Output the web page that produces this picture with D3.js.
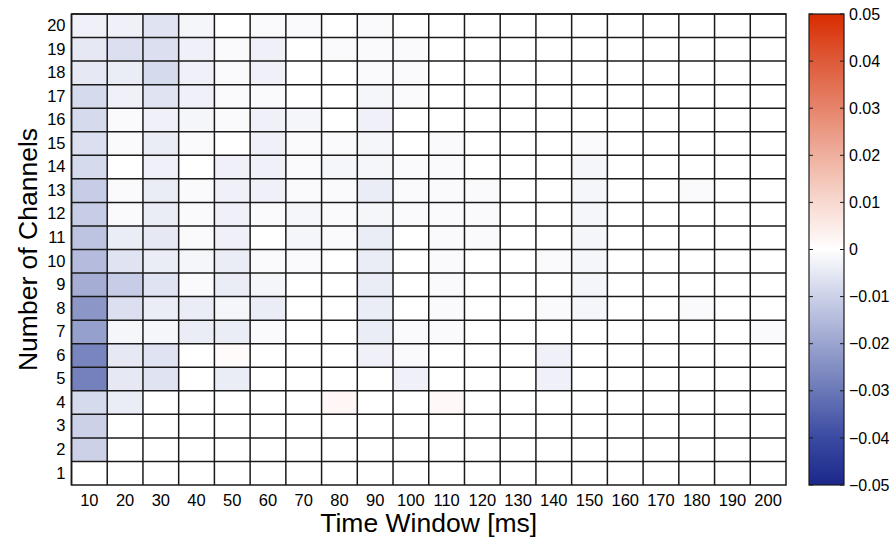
<!DOCTYPE html>
<html>
<head>
<meta charset="utf-8">
<script src="https://cdn.jsdelivr.net/npm/d3@7"></script>
<style>
  body { margin: 0; background: #fff; }
  text { font-family: "Liberation Sans", Arial, sans-serif; fill: #000; }
</style>
</head>
<body>
<script>
const timeWindows = [10, 20, 30, 40, 50, 60, 70, 80, 90, 100, 110, 120, 130, 140, 150, 160, 170, 180, 190, 200];
const channels = d3.range(1, 21);

// one row per channel count (1..20), one value per time window
const ch01 = [0, 0, 0, 0, 0, 0, 0, 0, 0, 0, 0, 0, 0, 0, 0, 0, 0, 0, 0, 0];
const ch02 = [-0.01, 0, 0, 0, 0, 0, 0, 0, 0, 0, 0, 0, 0, 0, 0, 0, 0, 0, 0, 0];
const ch03 = [-0.01, 0, 0, 0, 0, 0, 0, 0, 0, 0, 0, 0, 0, 0, 0, 0, 0, 0, 0, 0];
const ch04 = [-0.008, -0.004, 0, 0, 0, 0, 0, 0.002, 0, 0, 0.0015, 0, 0, 0, 0, 0, 0, 0, 0, 0];
const ch05 = [-0.028, -0.005, -0.006, 0, -0.004, 0, 0, 0, 0, -0.003, 0, 0, 0, -0.003, 0, 0, 0, 0, 0, 0];
const ch06 = [-0.027, -0.005, -0.006, 0, 0.001, 0, 0, 0, -0.003, -0.001, 0, 0, 0, -0.003, 0, 0, 0, 0, 0, 0];
const ch07 = [-0.021, -0.002, -0.002, -0.004, -0.004, -0.001, 0, 0, -0.004, -0.001, -0.001, 0, 0, 0, 0, 0, 0, 0, 0, -0.001];
const ch08 = [-0.023, -0.007, -0.004, -0.004, -0.002, -0.004, 0, 0, -0.004, 0, -0.001, 0, 0, -0.001, -0.002, 0, 0, -0.001, 0, 0];
const ch09 = [-0.018, -0.011, -0.006, -0.001, -0.004, -0.002, 0, 0, -0.004, 0, -0.001, 0, 0, 0, -0.002, 0, 0, 0, 0, 0];
const ch10 = [-0.015, -0.006, -0.004, -0.002, -0.004, -0.001, -0.001, 0, -0.004, 0, -0.001, 0, 0, -0.001, -0.002, 0, 0, 0, 0, 0];
const ch11 = [-0.013, -0.004, -0.005, -0.001, -0.003, 0, -0.002, -0.001, -0.004, 0, -0.001, -0.001, 0, 0, -0.002, 0, 0, 0, 0, 0];
const ch12 = [-0.011, -0.001, -0.004, -0.001, -0.003, -0.001, -0.002, -0.001, -0.002, -0.001, -0.001, -0.001, 0, 0, -0.002, 0, 0, 0, 0, 0];
const ch13 = [-0.011, -0.001, -0.004, -0.001, -0.003, -0.003, -0.001, -0.001, -0.004, -0.001, -0.001, -0.001, 0, 0, -0.002, 0, 0, -0.001, 0, 0];
const ch14 = [-0.008, 0, -0.003, 0, -0.003, -0.003, -0.001, -0.002, -0.002, -0.001, -0.001, 0, 0, 0, -0.002, 0, 0, 0, 0, 0];
const ch15 = [-0.007, -0.001, -0.004, -0.001, 0, -0.003, -0.001, -0.001, -0.002, 0, -0.001, 0, 0, 0, -0.001, 0, 0, 0, 0, 0];
const ch16 = [-0.008, -0.001, -0.003, -0.002, -0.001, -0.003, -0.002, 0, -0.003, 0, 0, 0, 0, 0, 0, 0, 0, 0, 0, 0];
const ch17 = [-0.008, -0.003, -0.006, -0.003, -0.001, -0.001, 0, 0, -0.002, -0.001, 0, 0, 0, 0, 0, 0, 0, 0, 0, 0];
const ch18 = [-0.005, -0.004, -0.008, -0.003, -0.001, -0.003, 0, 0, -0.001, -0.001, 0, 0, 0, 0, 0, 0, 0, 0, 0, 0];
const ch19 = [-0.005, -0.007, -0.007, -0.003, -0.001, -0.003, 0, -0.001, -0.001, -0.001, 0, 0, 0, 0, 0, 0, 0, 0, 0, 0];
const ch20 = [-0.003, -0.003, -0.006, -0.002, 0, -0.001, -0.001, 0, -0.001, 0, 0, 0, 0, 0, 0, 0, 0, 0, 0, 0];
const values = [ch01, ch02, ch03, ch04, ch05, ch06, ch07, ch08, ch09, ch10,
                ch11, ch12, ch13, ch14, ch15, ch16, ch17, ch18, ch19, ch20];

const colorTicks = [-0.05, -0.04, -0.03, -0.02, -0.01, 0, 0.01, 0.02, 0.03, 0.04, 0.05];
const colorStops = ["#1b278a", "#3a4aa2", "#6a78b7", "#9ba4cf", "#ccd1e8", "#ffffff",
                    "#f8d9d0", "#efb09e", "#e6846b", "#de5a39", "#d92c00"];

const width = 893, height = 540;
const plot = { left: 71.5, right: 786, top: 14, bottom: 485 };
const bar = { left: 809, right: 844 };

let cells = [];
channels.forEach((c, i) => timeWindows.forEach((t, j) => cells.push({ ch: c, t: t, v: values[i][j] })));

let color = d3.scaleLinear().domain(colorTicks).range(colorStops).interpolate(d3.interpolateRgb).clamp(true);

let x = d3.scaleBand().domain(timeWindows).range([plot.left, plot.right]).padding(0);
let y = d3.scaleBand().domain(channels).range([plot.bottom, plot.top]).padding(0);

let svg = d3.select("body").append("svg")
  .attr("width", width)
  .attr("height", height);

svg.selectAll("rect.cell")
  .data(cells)
  .enter()
  .append("rect")
    .attr("class", "cell")
    .attr("x", d => x(d.t))
    .attr("y", d => y(d.ch))
    .attr("width", x.bandwidth())
    .attr("height", y.bandwidth())
    .attr("fill", d => color(d.v));

// grid lines between cells
let grid = svg.append("g").attr("stroke", "#1a1a1a").attr("stroke-width", 1.5);
grid.selectAll("line.v")
  .data(timeWindows)
  .enter()
  .append("line")
    .attr("x1", d => x(d)).attr("x2", d => x(d))
    .attr("y1", plot.top).attr("y2", plot.bottom);
grid.selectAll("line.h")
  .data(channels)
  .enter()
  .append("line")
    .attr("y1", d => y(d)).attr("y2", d => y(d))
    .attr("x1", plot.left).attr("x2", plot.right);
svg.append("rect")
  .attr("x", plot.left).attr("y", plot.top)
  .attr("width", plot.right - plot.left).attr("height", plot.bottom - plot.top)
  .attr("fill", "none").attr("stroke", "#1a1a1a").attr("stroke-width", 1.5);

function dropLines(g) {
  g.select(".domain").remove();
  g.selectAll(".tick line").remove();
}

let xAxis = d3.axisBottom(x).tickSize(0).tickPadding(9);
svg.append("g")
  .attr("transform", `translate(0,${plot.bottom})`)
  .call(xAxis)
  .call(dropLines)
  .selectAll("text")
    .style("font-family", "Liberation Sans, Arial, sans-serif")
    .style("font-size", "16.5px");

let yAxis = d3.axisLeft(y).tickSize(0).tickPadding(6);
svg.append("g")
  .attr("transform", `translate(${plot.left},0)`)
  .call(yAxis)
  .call(dropLines)
  .selectAll("text")
    .style("font-family", "Liberation Sans, Arial, sans-serif")
    .style("font-size", "16.5px");

svg.append("text")
  .attr("x", (plot.left + plot.right) / 2)
  .attr("y", 532)
  .attr("text-anchor", "middle")
  .style("font-size", "26.5px")
  .text("Time Window [ms]");

svg.append("text")
  .attr("transform", `translate(37,${(plot.top + plot.bottom) / 2}) rotate(-90)`)
  .attr("text-anchor", "middle")
  .style("font-size", "26.5px")
  .text("Number of Channels");

// colorbar
let cScale = d3.scaleLinear().domain([-0.05, 0.05]).range([plot.bottom, plot.top]);

let defs = svg.append("defs");
let grad = defs.append("linearGradient")
  .attr("id", "cbar")
  .attr("x1", 0).attr("y1", 1).attr("x2", 0).attr("y2", 0);
grad.selectAll("stop")
  .data(d3.range(0, 1.0001, 0.02))
  .enter()
  .append("stop")
    .attr("offset", d => d)
    .attr("stop-color", d => color(-0.05 + d * 0.1));

svg.append("rect")
  .attr("x", bar.left).attr("y", plot.top)
  .attr("width", bar.right - bar.left).attr("height", plot.bottom - plot.top)
  .attr("fill", "url(#cbar)")
  .attr("stroke", "#1a1a1a").attr("stroke-width", 1.2);

let cAxis = svg.append("g");
cAxis.selectAll("line.l")
  .data(colorTicks)
  .enter()
  .append("line")
    .attr("x1", bar.left).attr("x2", bar.left + 4)
    .attr("y1", d => cScale(d)).attr("y2", d => cScale(d))
    .attr("stroke", "#1a1a1a");
cAxis.selectAll("line.r")
  .data(colorTicks)
  .enter()
  .append("line")
    .attr("x1", bar.right - 4).attr("x2", bar.right)
    .attr("y1", d => cScale(d)).attr("y2", d => cScale(d))
    .attr("stroke", "#1a1a1a");
cAxis.selectAll("text")
  .data(colorTicks)
  .enter()
  .append("text")
    .attr("x", bar.right + 5)
    .attr("y", d => cScale(d))
    .attr("dy", "0.35em")
    .style("font-size", "16px")
    .text(d => d === 0 ? "0" : (d < 0 ? "\u2212" : "") + Math.abs(d).toFixed(2));
</script>
</body>
</html>
